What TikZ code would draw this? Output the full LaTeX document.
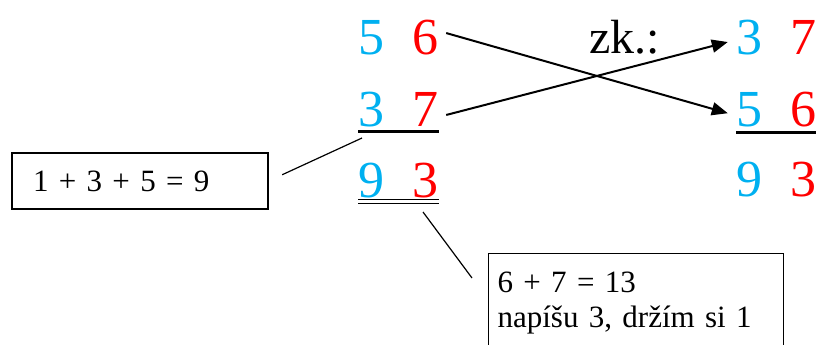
\documentclass[tikz,border=0pt]{standalone}
\usepackage{fontspec}
\setmainfont{Liberation Serif}
\usetikzlibrary{arrows.meta}
\definecolor{tens}{HTML}{00B0F0}
\definecolor{units}{HTML}{FF0000}
\tikzset{
  digit/.style={anchor=base, inner xsep=8pt, inner ysep=0pt, font=\fontsize{52}{52}\selectfont},
  tensdigit/.style={digit, text=tens},
  unitsdigit/.style={digit, text=units},
  swap/.style={line width=2pt, -{Triangle[length=16pt,width=13pt]}},
  note/.style={draw, line width=1.2pt, align=left, font=\fontsize{31}{35}\selectfont}
}
\begin{document}
\begin{tikzpicture}[x=1pt, y=-1pt]
      \useasboundingbox (0, 0) rectangle (816, 345);

      \node[tensdigit] (a5) at (371, 55) {5};
      \node[unitsdigit] (a6) at (425, 55) {6};
      \node[tensdigit] (a3) at (371, 126) {3};
      \node[unitsdigit] (a7) at (425, 126) {7};
      \node[tensdigit] (a9) at (371, 197) {9};
      \node[unitsdigit] (aU) at (425, 197) {3};
      \draw[line width=3pt] (358, 131) -- (439, 131);
      \draw[line width=1.8pt] (358, 199.5) -- (439, 199.5);
      \draw[line width=1.8pt] (358, 203.5) -- (439, 203.5);

      \node[anchor=base west, inner sep=0pt, font=\fontsize{48}{48}\selectfont] (check) at (589, 53) {zk.:};
      \node[tensdigit] (b3) at (749, 55) {3};
      \node[unitsdigit] (b7) at (803, 55) {7};
      \node[tensdigit] (b5) at (749, 126) {5};
      \node[unitsdigit] (b6) at (803, 126) {6};
      \node[tensdigit] (b9) at (749, 196) {9};
      \node[unitsdigit] (bU) at (803, 196) {3};
      \draw[line width=3pt] (736, 132) -- (816, 132);

      \draw[swap] ([yshift=5pt]a6.east) -- ([yshift=-4pt]b5.west);
      \draw[swap] ([yshift=-6pt]a7.east) -- ([yshift=-4pt]b3.west);

      \node[note, minimum height=56pt, text width=214pt, inner xsep=21pt] (sumbox) at (140, 181) {1 + 3 + 5 = 9};
      \coordinate (sumtip) at (362, 138);
      \draw[line width=1.2pt, shorten <=15pt] (sumbox.east) -- (sumtip);

      \node[note, anchor=north west, text width=277pt, inner xsep=9pt, inner ysep=18pt] (carrybox) at (488, 253) {6 + 7 = 13\\napíšu 3, držím si 1};
      \coordinate (carrytip) at (423, 212);
      \coordinate (carryfoot) at (472, 278);
      \draw[line width=1.2pt] (carrytip) -- (carryfoot);
    \end{tikzpicture}
\end{document}
